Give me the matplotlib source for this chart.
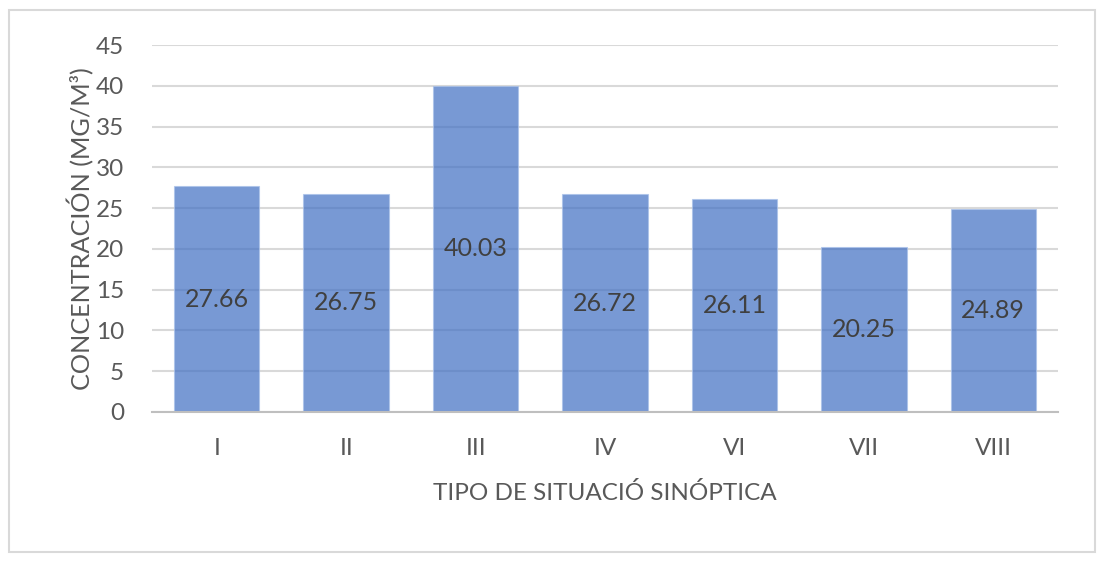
import matplotlib
matplotlib.use("Agg")
import matplotlib.pyplot as plt
from matplotlib.patches import Rectangle

categories = ["I", "II", "III", "IV", "VI", "VII", "VIII"]
values = [27.66, 26.75, 40.03, 26.72, 26.11, 20.25, 24.89]
yticks = [0, 5, 10, 15, 20, 25, 30, 35, 40, 45]

plt.rcParams['font.family'] = ['Lato', 'DejaVu Sans']
txt = '#595959'

fig = plt.figure(figsize=(11.11, 5.68), dpi=100)
fig.patch.set_facecolor('white')
border = Rectangle((9/1111, 1 - 552/568), (1095 - 9)/1111, (552 - 10)/568,
                   transform=fig.transFigure, facecolor='none',
                   edgecolor='#D9D9D9', linewidth=1.5, zorder=-1)
fig.patches.append(border)

ax = fig.add_axes([152/1111, 1 - 412/568, (1058 - 152)/1111, (412 - 45)/568])
ax.set_facecolor('none')
x = list(range(len(categories)))
bars = ax.bar(x, values, width=0.66, color='#4472C4', alpha=0.72,
              edgecolor='#A9C1EA', linewidth=0.8, zorder=3)
for xi, v in zip(x, values):
    ax.text(xi, v / 2, f"{v:.2f}", ha='center', va='center', fontsize=18,
            color='#404040', zorder=4)

ax.set_xlim(-0.5, len(categories) - 0.5)
ax.set_ylim(0, 45)
ax.set_yticks(yticks)
ax.set_xticks(x)
ax.set_xticklabels(categories)
ax.yaxis.grid(True, color='#D9D9D9', linewidth=1.5, zorder=0)
ax.set_axisbelow(True)
for s in ['top', 'right', 'left']:
    ax.spines[s].set_visible(False)
ax.spines['bottom'].set_color('#BFBFBF')
ax.spines['bottom'].set_linewidth(1.5)
ax.spines['bottom'].set_zorder(5)
ax.tick_params(axis='both', length=0, labelsize=17.5, colors=txt)
ax.tick_params(axis='y', pad=20)
ax.tick_params(axis='x', pad=19)
ax.set_xlabel("TIPO DE SITUACIÓ SINÓPTICA", fontsize=17.5, color=txt, labelpad=16)
ax.set_ylabel("CONCENTRACIÓN (MG/M³)", fontsize=18.2, color=txt, labelpad=1)

fig.savefig("out.png", dpi=100, facecolor='white')
